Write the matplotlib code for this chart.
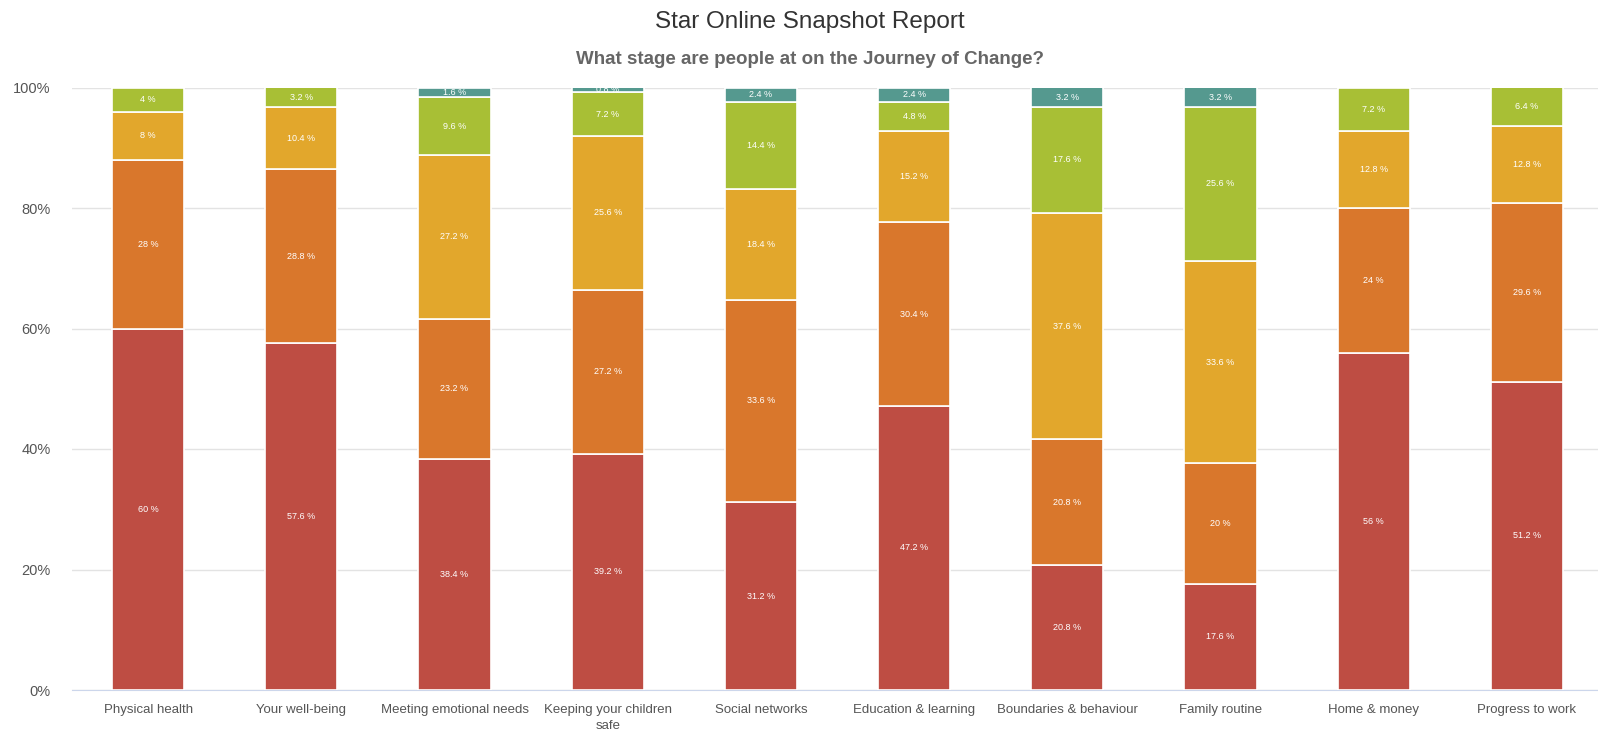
import matplotlib.pyplot as plt
import numpy as np

plt.rcParams['font.family'] = ['Liberation Sans', 'DejaVu Sans']

# Data (percent), bottom stage to top stage
categories = ['Physical health', 'Your well-being', 'Meeting emotional needs',
              'Keeping your children\nsafe', 'Social networks', 'Education & learning',
              'Boundaries & behaviour', 'Family routine', 'Home & money', 'Progress to work']
stage1 = [60, 57.6, 38.4, 39.2, 31.2, 47.2, 20.8, 17.6, 56, 51.2]
stage2 = [28, 28.8, 23.2, 27.2, 33.6, 30.4, 20.8, 20, 24, 29.6]
stage3 = [8, 10.4, 27.2, 25.6, 18.4, 15.2, 37.6, 33.6, 12.8, 12.8]
stage4 = [4, 3.2, 9.6, 7.2, 14.4, 4.8, 17.6, 25.6, 7.2, 6.4]
stage5 = [0, 0, 1.6, 0.8, 2.4, 2.4, 3.2, 3.2, 0, 0]

series = [stage1, stage2, stage3, stage4, stage5]
colors = ['#BE4D43', '#D9772C', '#E2A72C', '#A8BF35', '#55998F']

fig = plt.figure(figsize=(15.98, 7.35), dpi=100)
ax = fig.add_axes([71.5 / 1598, 45 / 735, 1532 / 1598, 602.5 / 735])

x = np.arange(len(categories))
bottom = np.zeros(len(categories))
for vals, col in zip(series, colors):
    vals = np.array(vals, dtype=float)
    ax.bar(x, vals, 0.47, bottom=bottom, color=col, edgecolor='white', linewidth=1.2, zorder=3)
    for xi, v, b in zip(x, vals, bottom):
        if v > 0:
            ax.text(xi, b + v / 2, f'{v:g} %', ha='center', va='center',
                    color='white', fontsize=6.5, zorder=4)
    bottom += vals

ax.set_xlim(-0.5, len(categories) - 0.5)
ax.set_ylim(0, 100)
ax.set_yticks([0, 20, 40, 60, 80, 100])
ax.set_yticklabels(['0%', '20%', '40%', '60%', '80%', '100%'])
ax.set_xticks(x)
ax.set_xticklabels(categories, fontsize=9.5, color='#555555', linespacing=1.45)
ax.tick_params(axis='y', labelsize=10.5, labelcolor='#555555', length=0, pad=15)
ax.tick_params(axis='x', length=0, pad=10)
ax.grid(axis='y', color='#e3e3e3', linewidth=1, zorder=0)
for s in ['top', 'right', 'left']:
    ax.spines[s].set_visible(False)
ax.spines['bottom'].set_color('#ccd6eb')

fig.text(810 / 1598, 1 - 22 / 735, 'Star Online Snapshot Report', ha='center', va='center',
         fontsize=17.5, color='#333333')
fig.text(810 / 1598, 1 - 60 / 735, 'What stage are people at on the Journey of Change?',
         ha='center', va='center', fontsize=13.5, color='#666666', fontweight='bold')

fig.savefig('out.png', dpi=100)
